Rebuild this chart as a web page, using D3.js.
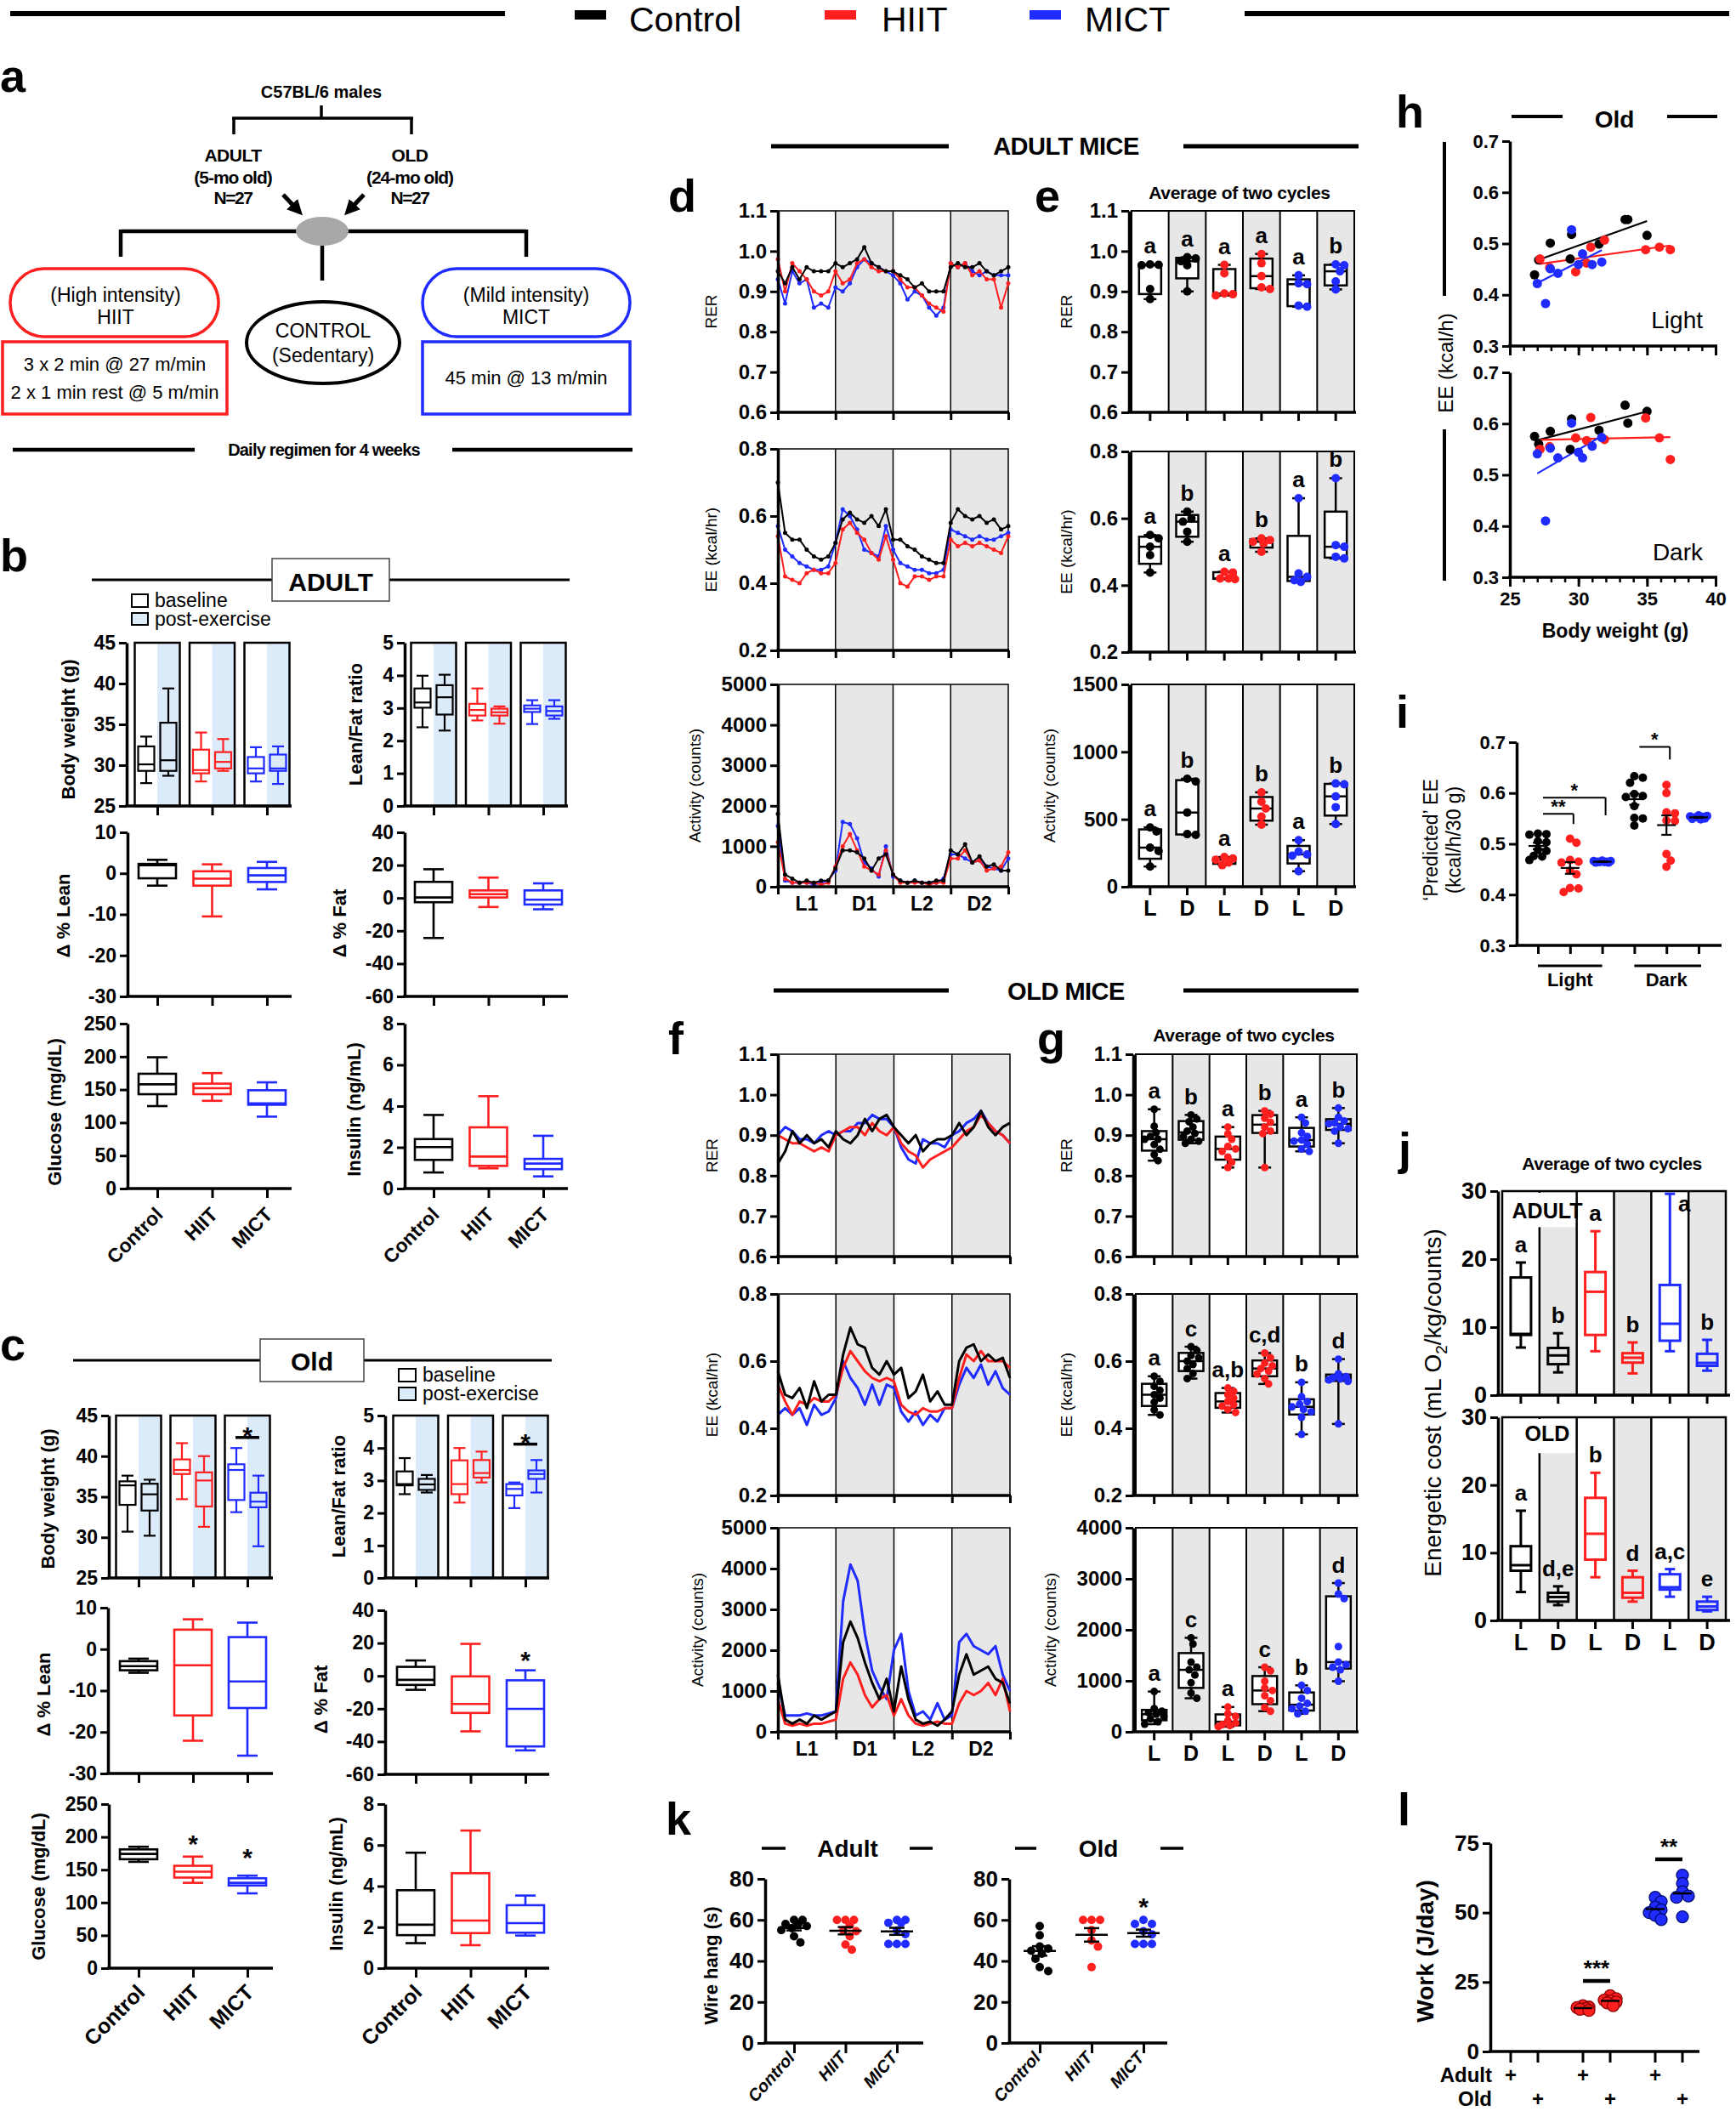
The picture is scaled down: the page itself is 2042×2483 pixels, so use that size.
<!DOCTYPE html>
<html lang="en">
<head>
<meta charset="UTF-8">
<title>Exercise training in adult and old mice</title>
<script src="https://d3js.org/d3.v7.min.js"></script>
<style>
  body { margin: 0; background: #fff; }
  svg { display: block; }
</style>
</head>
<body>
<div id="chart"></div>
<script>
// ---------------- data ----------------
var groups = ["Control", "HIIT", "MICT"];

// b / c : box stats [min, q1, median, q3, max] per group
var adultBodyWtBase = [[27.8,29.3,30.1,32.3,33.5],[28.0,29.0,29.4,31.9,34.0],[28.0,29.0,29.6,31.0,32.2]];
var adultBodyWtPost = [[28.7,29.3,30.6,35.2,39.4],[29.3,29.6,30.4,31.6,33.2],[27.7,29.3,29.6,31.3,32.3]];
var adultLeanFatBase = [[2.41,3.01,3.17,3.60,3.99],[2.62,2.77,2.94,3.13,3.60],[2.51,2.88,2.98,3.08,3.24]];
var adultLeanFatPost = [[2.31,2.80,3.33,3.70,4.02],[2.52,2.77,2.87,2.98,3.05],[2.67,2.77,2.91,3.05,3.24]];
var adultDLean = [[-3.0,-1.2,2.0,2.3,3.3],[-10.5,-3.0,-1.3,0.5,2.2],[-3.9,-2.1,-0.5,1.3,2.8]];
var adultDFat = [[-24.4,-2.6,0.3,9.8,17.5],[-5.5,0.3,2.3,4.6,12.4],[-6.9,-4.0,-1.1,4.6,8.9]];
var adultGlucose = [[125,143,158,174,199],[133,143,152,159,175],[109,127,129,149,161]];
var adultInsulin = [[0.78,1.39,2.01,2.4,3.57],[0.98,1.10,1.55,2.97,4.48],[0.59,0.94,1.21,1.44,2.56]];

var oldBodyWtBase = [[30.7,34.0,36.4,36.9,37.6],[34.7,37.8,38.3,39.6,41.6],[33.1,34.6,38.3,39.0,41.0]];
var oldBodyWtPost = [[30.2,33.3,35.3,36.6,37.1],[31.3,33.8,37.0,38.0,40.0],[28.9,33.7,34.4,35.5,37.6]];
var oldLeanFatBase = [[2.58,2.85,2.89,3.28,3.69],[2.32,2.58,2.89,3.62,4.0],[2.15,2.54,2.74,2.89,2.94]];
var oldLeanFatPost = [[2.63,2.71,2.88,3.05,3.17],[2.94,3.09,3.23,3.63,3.89],[2.63,3.05,3.2,3.31,3.63]];
var oldDLean = [[-5.7,-5.1,-4.1,-2.9,-2.3],[-22.1,-16.0,-3.9,4.7,7.2],[-25.7,-14.2,-7.8,2.9,6.4]];
var oldDFat = [[-8.5,-5.5,-2.4,5.5,9.4],[-33.8,-22.6,-17.1,-0.3,19.5],[-45.4,-43.0,-20.1,-2.7,3.4]];
var oldGlucose = [[162,166,174,181,185],[130,138,147,156,170],[114,126,130,137,141]];
var oldInsulin = [[1.22,1.61,2.12,3.80,5.63],[1.12,1.71,2.32,4.63,6.71],[1.59,1.73,2.2,3.07,3.54]];

// d / f : time courses over 48 h, one reading every 1.5 h
var hours = d3.range(0, 48.01, 1.5);
var adultRerC = [0.95,0.92,0.96,0.93,0.96,0.95,0.95,0.95,0.97,0.96,0.97,0.98,1.01,0.97,0.96,0.95,0.95,0.94,0.93,0.91,0.92,0.90,0.90,0.90,0.96,0.97,0.96,0.96,0.97,0.95,0.94,0.95,0.96];
var adultRerH = [0.98,0.90,0.97,0.95,0.93,0.90,0.89,0.90,0.95,0.92,0.93,0.97,0.98,0.96,0.95,0.95,0.95,0.93,0.91,0.91,0.89,0.87,0.86,0.85,0.97,0.96,0.97,0.94,0.95,0.93,0.93,0.86,0.92];
var adultRerM = [0.93,0.87,0.95,0.92,0.93,0.86,0.87,0.86,0.91,0.90,0.92,0.96,0.98,0.97,0.96,0.95,0.94,0.92,0.88,0.90,0.89,0.86,0.84,0.86,0.97,0.96,0.97,0.95,0.94,0.95,0.94,0.94,0.94];
var adultEeC = [0.70,0.55,0.53,0.53,0.50,0.48,0.47,0.48,0.52,0.59,0.61,0.59,0.58,0.60,0.57,0.62,0.53,0.53,0.51,0.50,0.48,0.47,0.46,0.46,0.58,0.62,0.60,0.59,0.60,0.58,0.59,0.56,0.57];
var adultEeH = [0.54,0.42,0.41,0.40,0.43,0.44,0.43,0.43,0.46,0.56,0.58,0.55,0.53,0.49,0.47,0.54,0.47,0.40,0.39,0.42,0.42,0.41,0.42,0.42,0.53,0.51,0.52,0.51,0.52,0.51,0.50,0.49,0.54];
var adultEeM = [0.57,0.50,0.48,0.46,0.45,0.44,0.44,0.45,0.52,0.62,0.60,0.56,0.50,0.49,0.48,0.57,0.50,0.46,0.45,0.44,0.44,0.43,0.43,0.44,0.56,0.55,0.54,0.53,0.54,0.53,0.53,0.54,0.55];
var adultActC = [1800,300,200,100,150,100,150,150,450,900,900,850,700,400,700,800,300,150,100,150,100,100,150,150,900,800,1050,600,750,500,550,400,400];
var adultActH = [1100,200,100,100,100,100,50,100,500,1000,1300,900,500,400,300,900,300,100,100,100,100,50,100,100,700,700,900,600,650,400,450,500,850];
var adultActM = [1500,150,100,100,100,50,100,150,400,1600,1550,1200,600,450,250,1000,250,150,100,150,100,100,100,200,800,800,700,600,650,500,450,400,700];

var oldRerC = [0.83,0.86,0.91,0.88,0.90,0.88,0.89,0.87,0.91,0.89,0.88,0.90,0.94,0.91,0.94,0.95,0.92,0.90,0.88,0.90,0.86,0.88,0.89,0.89,0.90,0.93,0.90,0.92,0.96,0.92,0.90,0.92,0.93];
var oldRerH = [0.90,0.89,0.88,0.88,0.87,0.86,0.87,0.86,0.90,0.91,0.92,0.92,0.90,0.93,0.91,0.90,0.92,0.88,0.86,0.85,0.82,0.84,0.85,0.86,0.87,0.89,0.91,0.92,0.95,0.93,0.91,0.90,0.88];
var oldRerM = [0.90,0.92,0.91,0.89,0.89,0.88,0.90,0.91,0.90,0.91,0.91,0.93,0.93,0.95,0.94,0.94,0.92,0.87,0.84,0.83,0.89,0.88,0.88,0.87,0.90,0.91,0.93,0.94,0.96,0.93,0.91,0.90,0.88];
var oldEeC = [0.57,0.50,0.49,0.52,0.46,0.54,0.48,0.50,0.50,0.62,0.70,0.65,0.64,0.58,0.56,0.60,0.56,0.58,0.49,0.51,0.56,0.48,0.51,0.47,0.47,0.60,0.64,0.65,0.60,0.62,0.60,0.61,0.55];
var oldEeH = [0.53,0.48,0.44,0.48,0.47,0.49,0.48,0.48,0.50,0.58,0.63,0.60,0.57,0.55,0.54,0.55,0.54,0.47,0.45,0.44,0.46,0.45,0.45,0.46,0.46,0.55,0.62,0.60,0.63,0.60,0.60,0.60,0.58];
var oldEeM = [0.44,0.46,0.44,0.46,0.41,0.47,0.44,0.45,0.49,0.60,0.55,0.52,0.47,0.53,0.47,0.53,0.52,0.45,0.42,0.45,0.41,0.44,0.42,0.46,0.46,0.53,0.58,0.55,0.59,0.53,0.57,0.52,0.50];
var oldActC = [1400,300,200,300,200,400,300,400,500,2200,2700,2300,1700,1200,800,1300,500,1600,800,300,200,250,150,300,500,1400,1900,1400,1500,1600,1300,1200,700];
var oldActH = [800,200,150,200,150,200,200,250,300,1300,1700,1400,900,600,800,900,400,800,400,200,150,200,250,200,200,700,1000,900,1000,1200,900,1300,500];
var oldActM = [1200,400,400,400,450,400,400,450,500,3200,4100,3700,2400,1500,1100,800,2000,2400,1000,400,500,300,700,300,400,2200,2400,2100,2000,1900,2100,1400,1000];

// e / g : per-mouse averages, columns L,D (Control), L,D (HIIT), L,D (MICT)
var cycleCols = ["L", "D", "L", "D", "L", "D"];
var adultRerPts = [[0.967,0.965,0.966,0.906,0.881],[0.985,0.982,0.975,0.965,0.90],[0.966,0.945,0.893,0.89,0.895],[0.993,0.97,0.938,0.906,0.91],[0.94,0.92,0.918,0.865,0.862],[0.967,0.965,0.95,0.925,0.905]];
var adultEePts = [[0.55,0.54,0.515,0.49,0.438],[0.62,0.6,0.59,0.56,0.53],[0.44,0.438,0.42,0.418,0.42],[0.54,0.535,0.53,0.525,0.5],[0.66,0.435,0.425,0.415,0.41],[0.72,0.52,0.515,0.485,0.48]];
var adultActPts = [[440,410,290,265,150],[800,780,550,390,385],[220,210,200,180,160],[700,630,580,520,460],[345,260,240,230,115],[765,760,670,590,465]];
var adultRerLetters = ["a","a","a","a","a","b"];
var adultEeLetters = ["a","b","a","b","a","b"];
var adultActLetters = ["a","b","a","b","a","b"];

var oldRerPts = [[0.964,0.922,0.906,0.897,0.89,0.89,0.877,0.865,0.852,0.837],[0.95,0.94,0.933,0.92,0.91,0.904,0.897,0.89,0.885,0.88],[0.92,0.903,0.89,0.872,0.866,0.86,0.846,0.833,0.82],[0.96,0.952,0.942,0.932,0.92,0.91,0.904,0.82],[0.944,0.93,0.906,0.897,0.888,0.885,0.878,0.866,0.86],[0.967,0.944,0.935,0.93,0.928,0.92,0.916,0.91,0.88]];
var oldEePts = [[0.555,0.54,0.525,0.513,0.5,0.49,0.478,0.455,0.44],[0.643,0.632,0.617,0.61,0.6,0.59,0.578,0.563,0.548],[0.52,0.51,0.5,0.49,0.48,0.47,0.466,0.456,0.447],[0.624,0.61,0.594,0.586,0.578,0.57,0.562,0.548,0.532],[0.537,0.494,0.479,0.472,0.464,0.456,0.449,0.433,0.382],[0.606,0.562,0.554,0.55,0.547,0.544,0.54,0.413]];
var oldActPts = [[790,455,405,375,345,304,253,200,150],[1843,1720,1367,1266,1215,1114,962,760,658],[486,354,304,223,172,142,122,101],[1266,1195,992,861,810,709,608,476,405],[911,810,658,557,506,455,405,354],[2916,2700,2613,1671,1367,1316,1266,1215,992]];
var oldRerLetters = ["a","b","a","b","a","b"];
var oldEeLetters = ["a","c","a,b","c,d","b","d"];
var oldActLetters = ["a","c","a","c","b","d"];

// h : EE against body weight (old mice)
var hWeightC = [26.8,27.1,27.95,29.4,29.5,31.5,33.4,33.6,35.0];
var hWeightH = [27.2,27.9,29.8,30.6,30.9,31.9,34.9,35.9,36.7];
var hWeightM = [27.0,27.6,27.95,28.5,29.5,30.0,30.3,31.0,31.7];
var hLightC = [0.439,0.468,0.501,0.47,0.518,0.499,0.547,0.547,0.516];
var hLightH = [0.47,0.453,0.445,0.462,0.493,0.507,0.488,0.493,0.488];
var hLightM = [0.422,0.383,0.451,0.442,0.527,0.459,0.48,0.459,0.464];
var hDarkC = [0.575,0.56,0.585,0.55,0.609,0.587,0.636,0.601,0.624];
var hDarkH = [0.55,0.555,0.572,0.567,0.612,0.569,0.611,0.572,0.53];
var hDarkM = [0.541,0.41,0.552,0.533,0.601,0.544,0.533,0.556,0.573];

// i : predicted EE at 30 g
var iLightC = [0.519,0.518,0.52,0.505,0.503,0.488,0.486,0.476,0.475,0.468];
var iLightH = [0.51,0.502,0.468,0.465,0.463,0.447,0.44,0.413,0.412,0.405];
var iLightM = [0.467,0.466,0.466,0.465,0.465,0.464,0.464,0.463,0.463];
var iDarkC = [0.633,0.63,0.62,0.598,0.594,0.592,0.574,0.551,0.55,0.536];
var iDarkH = [0.616,0.6,0.562,0.56,0.546,0.545,0.48,0.467,0.455];
var iDarkM = [0.556,0.555,0.554,0.553,0.552,0.551,0.55,0.549,0.548];

// j : energetic cost box stats
var jAdult = [[7.0,8.85,9.0,17.3,19.5],[3.35,4.55,5.84,6.94,9.1],[6.46,8.85,15.2,18.1,24.1],[3.2,4.78,5.5,6.17,7.75],[6.46,8.0,10.5,16.2,29.6],[3.6,4.31,4.74,6.08,8.13]];
var jOld = [[4.2,7.34,8.16,10.96,16.2],[2.26,2.78,3.46,4.08,5.04],[6.38,8.98,12.8,18.1,21.8],[2.78,3.36,4.08,6.38,7.34],[3.5,4.56,4.9,6.82,7.58],[1.34,1.54,2.06,2.78,3.5]];
var jAdultLetters = ["a","b","a","b","a","b"];
var jOldLetters = ["a","d,e","b","d","a,c","e"];

// k : wire hang (s)
var kAdultC = [60,60,58,58,57,56,55,52,49];
var kAdultH = [60,60,60,57.5,55,54.5,52,48,45.5];
var kAdultM = [60,60,58.6,58.6,54.8,53.1,48.3,48.3,48.3];
var kOldC = [57,52.5,47,46,45,43.5,41,37,35];
var kOldH = [60,60,60,55,50,47,37];
var kOldM = [60,58,58,54.5,53,48.3,48.3,48.3];

// l : treadmill work (J/day); control mice did not run
var lAdultH = [16.5,15.8,15.2,14.8,16.0,15.5];
var lOldH = [20.1,19.0,18.2,17.5,16.5,17.8,18.5];
var lAdultM = [55.5,54,52,51,50,49,47.5];
var lOldM = [63.5,60.5,57.5,56,55.5,48.5];

// ---------------- drawing helpers ----------------
var FONT = '"Liberation Sans", Arial, Helvetica, sans-serif';
var NARROW = '"Liberation Sans Narrow", "Arial Narrow", "Liberation Sans", Arial, sans-serif';
var colors = ["#000000", "#ff1f1f", "#1f2bff"];
var colColor = [0, 0, 1, 1, 2, 2];
var LIGHTBLUE = "#dcebfa", SHADE = "#e7e7e7";

var svg = d3.select("#chart").append("svg")
  .attr("width", 2042).attr("height", 2483)
  .attr("font-family", FONT);
svg.append("rect").attr("width", 2042).attr("height", 2483).attr("fill", "#fff");
svg.append("defs").append("marker").attr("id", "arr")
  .attr("viewBox", "0 0 10 10").attr("refX", 6).attr("refY", 5)
  .attr("markerWidth", 3.6).attr("markerHeight", 3.6).attr("orient", "auto")
  .append("path").attr("d", "M0,0L10,5L0,10z").attr("fill", "#000");

function T(x, y, s, size, o) {
  o = o || {};
  var t = svg.append("text").attr("x", x).attr("y", y).attr("font-size", size)
    .attr("text-anchor", o.a || "middle").attr("font-weight", o.w || "bold")
    .attr("fill", o.c || "#000").text(s);
  if (o.f) t.attr("font-family", o.f);
  if (o.r) t.attr("transform", "rotate(" + o.r + "," + x + "," + y + ")");
  if (o.ls != null) t.attr("letter-spacing", o.ls);
  if (o.it) t.attr("font-style", "italic");
  return t;
}
function VT(cx, cy, s, size, o) { o = o || {}; o.r = -90; return T(cx + 0.36 * size, cy, s, size, o); }
function L(x1, y1, x2, y2, w, c) {
  return svg.append("line").attr("x1", x1).attr("y1", y1).attr("x2", x2).attr("y2", y2)
    .attr("stroke", c || "#000").attr("stroke-width", w || 2);
}
function R(x, y, w, h, fill, stroke, sw, rx) {
  var r = svg.append("rect").attr("x", x).attr("y", y).attr("width", w).attr("height", h)
    .attr("fill", fill || "none");
  if (stroke) r.attr("stroke", stroke).attr("stroke-width", sw || 2);
  if (rx) r.attr("rx", rx).attr("ry", rx);
  return r;
}
function axisL(x, y, ticks, fmt, size, fam) {
  var g = svg.append("g").attr("transform", "translate(" + x + ",0)")
    .call(d3.axisLeft(y).tickValues(ticks).tickFormat(fmt).tickSize(9).tickSizeOuter(0).tickPadding(4));
  g.attr("font-size", size).attr("font-weight", "bold").attr("font-family", fam || FONT);
  g.select(".domain").attr("stroke-width", 3.5).attr("stroke", "#000");
  g.selectAll(".tick line").attr("stroke-width", 3).attr("stroke", "#000");
  g.selectAll(".tick text").attr("fill", "#000");
  return g;
}
function axisB(y, x0, x1, scale, len, vals) {
  L(x0 - 1.75, y, x1, y, 3.5);
  var ax = d3.axisBottom(scale).tickSize(len || 10);
  if (vals) ax.tickValues(vals);
  var g = svg.append("g").attr("transform", "translate(0," + y + ")").call(ax);
  g.select(".domain").remove();
  g.selectAll(".tick text").remove();
  g.selectAll(".tick line").attr("stroke-width", 3).attr("stroke", "#000");
}
function box(cx, w, s, col, y, cap, sw, fill) {
  var g = svg.append("g").attr("stroke", col).attr("stroke-width", sw).attr("fill", "none");
  g.append("line").attr("x1", cx).attr("x2", cx).attr("y1", y(s[0])).attr("y2", y(s[1]));
  g.append("line").attr("x1", cx).attr("x2", cx).attr("y1", y(s[3])).attr("y2", y(s[4]));
  [s[0], s[4]].forEach(function (v) {
    g.append("line").attr("x1", cx - cap / 2).attr("x2", cx + cap / 2).attr("y1", y(v)).attr("y2", y(v));
  });
  g.append("rect").attr("x", cx - w / 2).attr("y", y(s[3])).attr("width", w)
    .attr("height", Math.max(1, y(s[1]) - y(s[3]))).attr("fill", fill || "none");
  g.append("line").attr("x1", cx - w / 2).attr("x2", cx + w / 2).attr("y1", y(s[2])).attr("y2", y(s[2]));
}
// quartiles the way GraphPad Prism computes them
function gpQuant(s, p) {
  var pos = p * (s.length + 1);
  if (pos <= 1) return s[0];
  if (pos >= s.length) return s[s.length - 1];
  var lo = Math.floor(pos);
  return s[lo - 1] + (pos - lo) * (s[lo] - s[lo - 1]);
}
function boxStats(vals) {
  var s = vals.slice().sort(d3.ascending);
  return [s[0], gpQuant(s, 0.25), d3.median(s), gpQuant(s, 0.75), s[s.length - 1]];
}
// simple bee-swarm so that equal values sit side by side
function swarm(vals, y, cx, r, dmin, maxOff) {
  var placed = [], cands = [0];
  for (var k = 1; k * r * 0.5 <= maxOff + 0.01; k++) cands.push(k * r * 0.5, -k * r * 0.5);
  return vals.slice().sort(d3.descending).map(function (v) {
    var py = y(v), best = cx, bestC = -1;
    for (var j = 0; j < cands.length; j++) {
      var px = cx + cands[j];
      var c = placed.length ? d3.min(placed, function (q) { return Math.hypot(q[0] - px, q[1] - py); }) : Infinity;
      if (c >= dmin) { best = px; break; }
      if (c > bestC) { bestC = c; best = px; }
    }
    placed.push([best, py]);
    return [best, py];
  });
}
function meanSem(cx, vals, y, w, cap, sw) {
  var m = d3.mean(vals), se = d3.deviation(vals) / Math.sqrt(vals.length);
  L(cx - w / 2, y(m), cx + w / 2, y(m), sw);
  L(cx, y(m - se), cx, y(m + se), sw);
  L(cx - cap / 2, y(m + se), cx + cap / 2, y(m + se), sw);
  L(cx - cap / 2, y(m - se), cx + cap / 2, y(m - se), sw);
}
var plainFmt = function (d) { return String(d); };

// ---------------- top legend ----------------
L(12, 16, 594, 16, 6);
L(1464, 16, 2034, 16, 6);
[["Control", 676, 740], ["HIIT", 970, 1037], ["MICT", 1211, 1276]].forEach(function (d, i) {
  R(d[1], 12, 37, 11, colors[i]);
  T(d[2], 37, d[0], 41, {a: "start", w: "normal"});
});

// ---------------- panel letters ----------------
[["a", 0, 108], ["b", 0, 672], ["c", 0, 1600], ["d", 786, 249], ["e", 1217, 249],
 ["f", 786, 1240], ["g", 1220, 1240], ["h", 1642, 150], ["i", 1642, 856],
 ["j", 1645, 1370], ["k", 783, 2158], ["l", 1644, 2147]].forEach(function (d) {
  T(d[1], d[2], d[0], 54, {a: "start"});
});

// ---------------- panel a : study design ----------------
T(378, 115, "C57BL/6 males", 20);
L(378, 124, 378, 139, 3.5); L(273, 139, 486, 139, 3.5);
L(275, 139, 275, 158, 3.5); L(484, 139, 484, 158, 3.5);
T(274, 190, "ADULT", 21, {ls: -0.5}); T(274, 216, "(5-mo old)", 21, {ls: -1}); T(274, 240, "N=27", 21, {ls: -1.5});
T(482, 190, "OLD", 21, {ls: -0.5}); T(482, 216, "(24-mo old)", 21, {ls: -1}); T(482, 240, "N=27", 21, {ls: -1.5});
L(333, 229, 351, 248, 5).attr("marker-end", "url(#arr)");
L(428, 229, 410, 248, 5).attr("marker-end", "url(#arr)");
L(142, 272, 619, 272, 4.5); L(142, 270, 142, 302, 4.5); L(619, 270, 619, 302, 4.5); L(379, 285, 379, 330, 4.5);
svg.append("ellipse").attr("cx", 379).attr("cy", 272).attr("rx", 31).attr("ry", 17).attr("fill", "#a8a8a8");
R(12, 316, 245, 80, "#fff", colors[1], 3.5, 40);
T(136, 355, "(High intensity)", 23, {w: "normal"}); T(136, 381, "HIIT", 23, {w: "normal"});
R(3, 402, 264, 85, "#fff", colors[1], 3.5);
T(135, 436, "3 x 2 min @ 27 m/min", 22, {w: "normal"}); T(135, 469, "2 x 1 min rest @ 5 m/min", 22, {w: "normal"});
svg.append("ellipse").attr("cx", 380).attr("cy", 403).attr("rx", 90).attr("ry", 48)
  .attr("fill", "#fff").attr("stroke", "#000").attr("stroke-width", 4);
T(380, 397, "CONTROL", 23, {w: "normal"}); T(380, 426, "(Sedentary)", 23, {w: "normal"});
R(497, 316, 244, 80, "#fff", colors[2], 3.5, 40);
T(619, 355, "(Mild intensity)", 23, {w: "normal"}); T(619, 381, "MICT", 23, {w: "normal"});
R(497, 402, 244, 85, "#fff", colors[2], 3.5);
T(619, 452, "45 min @ 13 m/min", 22, {w: "normal"});
L(15, 529, 229, 529, 4.5); L(532, 529, 744, 529, 4.5);
T(381, 536, "Daily regimen for 4 weeks", 20, {ls: -0.8});

// ---------------- panels b / c : body composition ----------------
function bcPanel(o) {
  var y = d3.scaleLinear().domain(o.dom).range([o.bot, o.top]);
  var x = d3.scalePoint().domain(groups).range(o.cx);
  groups.forEach(function (gname, i) {
    var c = x(gname);
    if (o.base) {
      R(c, o.top, 26.5, o.bot - o.top, LIGHTBLUE);
      R(c - 26.5, o.top, 53, o.bot - o.top, "none", "#000", 2.5);
      box(c - 13, 19, o.base[i], colors[i], y, 14, 2.2);
      box(c + 13, 19, o.post[i], colors[i], y, 14, 2.2);
    } else {
      box(c, 44, o.data[i], colors[i], y, 24, 2.6);
    }
  });
  axisL(o.ax, y, o.ticks, plainFmt, 23);
  axisB(o.bot, o.ax, o.xe, x, 11);
  VT(o.lx, o.ly, o.label, 22);
  (o.sig || []).forEach(function (s) {
    var c = x(groups[s.i]);
    if (s.bar) { L(c - 14, y(s.v), c + 14, y(s.v), 3.5); T(c, y(s.v) + 8, "*", 30); }
    else T(c, y(s.v) + 17, "*", 30);
  });
  if (o.xlab) groups.forEach(function (gname) {
    T(x(gname) + o.xlab[0], o.bot + o.xlab[1], gname, o.xlab[2], {a: "end", r: -45});
  });
}
// panel b header
L(108, 682, 320, 682, 3); L(458, 682, 670, 682, 3);
R(320, 657, 138, 50, "#fff", "#444", 1.5);
T(389, 695, "ADULT", 30);
R(155, 699, 19, 15, "#fff", "#000", 2); T(182, 714, "baseline", 23, {a: "start", w: "normal"});
R(155, 721, 19, 14, LIGHTBLUE, "#000", 2); T(182, 736, "post-exercise", 23, {a: "start", w: "normal"});

bcPanel({ax: 149, xe: 343, top: 756, bot: 948, cx: [185, 314], dom: [25, 45], ticks: [25, 30, 35, 40, 45],
  base: adultBodyWtBase, post: adultBodyWtPost, label: "Body weight (g)", lx: 80, ly: 858});
bcPanel({ax: 476, xe: 668, top: 756, bot: 948, cx: [510, 639], dom: [0, 5], ticks: [0, 1, 2, 3, 4, 5],
  base: adultLeanFatBase, post: adultLeanFatPost, label: "Lean/Fat ratio", lx: 418, ly: 852});
bcPanel({ax: 150, xe: 343, top: 979, bot: 1172, cx: [185, 314], dom: [-30, 10], ticks: [-30, -20, -10, 0, 10],
  data: adultDLean, label: "\u0394 % Lean", lx: 74, ly: 1077});
bcPanel({ax: 476, xe: 668, top: 979, bot: 1172, cx: [510, 639], dom: [-60, 40], ticks: [-60, -40, -20, 0, 20, 40],
  data: adultDFat, label: "\u0394 % Fat", lx: 399, ly: 1086});
bcPanel({ax: 150, xe: 343, top: 1204, bot: 1398, cx: [185, 314], dom: [0, 250], ticks: [0, 50, 100, 150, 200, 250],
  data: adultGlucose, label: "Glucose (mg/dL)", lx: 64, ly: 1308, xlab: [8, 32, 23]});
bcPanel({ax: 476, xe: 668, top: 1204, bot: 1398, cx: [510, 639], dom: [0, 8], ticks: [0, 2, 4, 6, 8],
  data: adultInsulin, label: "Insulin (ng/mL)", lx: 416, ly: 1305, xlab: [8, 32, 23]});

// panel c header
L(86, 1600, 306, 1600, 3); L(428, 1600, 649, 1600, 3);
R(306, 1575, 122, 50, "#fff", "#444", 1.5);
T(367, 1612, "Old", 30);
R(469, 1610, 20, 15, "#fff", "#000", 2); T(497, 1625, "baseline", 23, {a: "start", w: "normal"});
R(469, 1632, 20, 15, LIGHTBLUE, "#000", 2); T(497, 1647, "post-exercise", 23, {a: "start", w: "normal"});

bcPanel({ax: 128, xe: 321, top: 1665, bot: 1856, cx: [163, 291], dom: [25, 45], ticks: [25, 30, 35, 40, 45],
  base: oldBodyWtBase, post: oldBodyWtPost, label: "Body weight (g)", lx: 56, ly: 1763, sig: [{i: 2, v: 42.3, bar: true}]});
bcPanel({ax: 453, xe: 646, top: 1665, bot: 1856, cx: [489, 618], dom: [0, 5], ticks: [0, 1, 2, 3, 4, 5],
  base: oldLeanFatBase, post: oldLeanFatPost, label: "Lean/Fat ratio", lx: 398, ly: 1760, sig: [{i: 2, v: 4.12, bar: true}]});
bcPanel({ax: 127, xe: 321, top: 1891, bot: 2086, cx: [163, 291], dom: [-30, 10], ticks: [-30, -20, -10, 0, 10],
  data: oldDLean, label: "\u0394 % Lean", lx: 51, ly: 1993});
bcPanel({ax: 453, xe: 646, top: 1894, bot: 2087, cx: [489, 618], dom: [-60, 40], ticks: [-60, -40, -20, 0, 20, 40],
  data: oldDFat, label: "\u0394 % Fat", lx: 377, ly: 1999, sig: [{i: 2, v: 13}]});
bcPanel({ax: 128, xe: 321, top: 2122, bot: 2315, cx: [163, 291], dom: [0, 250], ticks: [0, 50, 100, 150, 200, 250],
  data: oldGlucose, label: "Glucose (mg/dL)", lx: 45, ly: 2219, xlab: [9, 30, 25], sig: [{i: 1, v: 198}, {i: 2, v: 177}]});
bcPanel({ax: 453, xe: 646, top: 2122, bot: 2315, cx: [489, 618], dom: [0, 8], ticks: [0, 2, 4, 6, 8],
  data: oldInsulin, label: "Insulin (ng/mL)", lx: 395, ly: 2216, xlab: [9, 30, 25]});

// ---------------- panels d / f : time courses ----------------
function tsPanel(o) {
  var x = d3.scaleLinear().domain([0, 48]).range([o.x0, o.x1]);
  var y = d3.scaleLinear().domain(o.dom).range([o.bot, o.top]);
  [12, 36].forEach(function (h) { R(x(h), o.top, x(h + 12) - x(h), o.bot - o.top, SHADE); });
  R(o.x0, o.top, o.x1 - o.x0, o.bot - o.top, "none", "#000", 1.5);
  [12, 24, 36].forEach(function (h) { L(x(h), o.top, x(h), o.bot, 1.5); });
  var line = d3.line().x(function (d, i) { return x(hours[i]); }).y(function (d) { return y(d); });
  [2, 1, 0].forEach(function (k) {
    svg.append("path").attr("d", line(o.s[k])).attr("fill", "none").attr("stroke", colors[k])
      .attr("stroke-width", o.lw).attr("stroke-linejoin", "round");
    if (o.dots) o.s[k].forEach(function (v, i) {
      svg.append("circle").attr("cx", x(hours[i])).attr("cy", y(v)).attr("r", 2.5).attr("fill", colors[k]);
    });
  });
  axisL(o.x0, y, o.ticks, o.fmt, 24);
  axisB(o.bot, o.x0, o.x1 + 1, x, 9, [0, 12, 24, 36, 48]);
  VT(o.lx, (o.top + o.bot) / 2, o.label, 19, {w: "normal"});
  if (o.xlabY) ["L1", "D1", "L2", "D2"].forEach(function (s, i) { T(x(6 + 12 * i), o.xlabY, s, 23); });
}
var f1 = d3.format(".1f");
// header ADULT MICE
L(907, 172, 1116, 172, 5); L(1392, 172, 1598, 172, 5);
T(1254, 182, "ADULT MICE", 29, {ls: -0.5});
tsPanel({x0: 915, x1: 1186, top: 248, bot: 485, dom: [0.6, 1.1], ticks: [0.6, 0.7, 0.8, 0.9, 1.0, 1.1], fmt: f1,
  s: [adultRerC, adultRerH, adultRerM], lw: 2, dots: true, label: "RER", lx: 836});
tsPanel({x0: 915, x1: 1186, top: 528, bot: 765, dom: [0.2, 0.8], ticks: [0.2, 0.4, 0.6, 0.8], fmt: f1,
  s: [adultEeC, adultEeH, adultEeM], lw: 2, dots: true, label: "EE (kcal/hr)", lx: 836});
tsPanel({x0: 915, x1: 1186, top: 805, bot: 1043, dom: [0, 5000], ticks: [0, 1000, 2000, 3000, 4000, 5000], fmt: plainFmt,
  s: [adultActC, adultActH, adultActM], lw: 2, dots: true, label: "Activity (counts)", lx: 817, xlabY: 1071});
// header OLD MICE
L(910, 1165, 1116, 1165, 5); L(1392, 1165, 1598, 1165, 5);
T(1254, 1176, "OLD MICE", 29, {ls: -0.5});
tsPanel({x0: 915, x1: 1188, top: 1240, bot: 1478, dom: [0.6, 1.1], ticks: [0.6, 0.7, 0.8, 0.9, 1.0, 1.1], fmt: f1,
  s: [oldRerC, oldRerH, oldRerM], lw: 3, label: "RER", lx: 837});
tsPanel({x0: 915, x1: 1188, top: 1522, bot: 1759, dom: [0.2, 0.8], ticks: [0.2, 0.4, 0.6, 0.8], fmt: f1,
  s: [oldEeC, oldEeH, oldEeM], lw: 3, label: "EE (kcal/hr)", lx: 837});
tsPanel({x0: 915, x1: 1188, top: 1797, bot: 2037, dom: [0, 5000], ticks: [0, 1000, 2000, 3000, 4000, 5000], fmt: plainFmt,
  s: [oldActC, oldActH, oldActM], lw: 3, label: "Activity (counts)", lx: 820, xlabY: 2065});

// ---------------- panels e / g : light vs dark averages ----------------
function colPanel(o) {
  var x = d3.scaleBand().domain(d3.range(6)).range([o.x0, o.x1]);
  var y = d3.scaleLinear().domain(o.dom).range([o.bot, o.top]);
  d3.range(6).forEach(function (i) { if (i % 2) R(x(i), o.top, x.bandwidth(), o.bot - o.top, SHADE); });
  R(o.x0, o.top, o.x1 - o.x0, o.bot - o.top, "none", "#000", 2);
  d3.range(1, 6).forEach(function (i) { L(x(i), o.top, x(i), o.bot, 2); });
  o.pts.forEach(function (vals, i) {
    var cx = x(i) + x.bandwidth() / 2, s = boxStats(vals);
    box(cx, o.bw, s, "#000", y, 15, 2.5, "#fff");
    swarm(vals, y, cx, o.r, o.r * 1.7, 13).forEach(function (p) {
      svg.append("circle").attr("cx", p[0]).attr("cy", p[1]).attr("r", o.r).attr("fill", colors[colColor[i]]);
    });
    T(cx, y(s[4]) - o.r - 8, o.letters[i], 26);
  });
  axisL(o.ax, y, o.ticks, o.fmt, 24);
  axisB(o.bot, o.ax, o.x1 + 2, x, 10);
  VT(o.lx, (o.top + o.bot) / 2, o.label, 19, {w: "normal"});
  if (o.xlabY) cycleCols.forEach(function (s, i) { T(x(i) + x.bandwidth() / 2, o.xlabY, s, 25); });
}
T(1458, 234, "Average of two cycles", 21, {ls: -0.3});
colPanel({ax: 1328, x0: 1331, x1: 1593, top: 248, bot: 485, dom: [0.6, 1.1], ticks: [0.6, 0.7, 0.8, 0.9, 1.0, 1.1], fmt: f1,
  pts: adultRerPts, letters: adultRerLetters, bw: 26, r: 5, label: "RER", lx: 1254});
colPanel({ax: 1328, x0: 1331, x1: 1593, top: 531, bot: 767, dom: [0.2, 0.8], ticks: [0.2, 0.4, 0.6, 0.8], fmt: f1,
  pts: adultEePts, letters: adultEeLetters, bw: 26, r: 5, label: "EE (kcal/hr)", lx: 1254});
colPanel({ax: 1328, x0: 1331, x1: 1593, top: 805, bot: 1043, dom: [0, 1500], ticks: [0, 500, 1000, 1500], fmt: plainFmt,
  pts: adultActPts, letters: adultActLetters, bw: 26, r: 5, label: "Activity (counts)", lx: 1234, xlabY: 1077});
T(1463, 1225, "Average of two cycles", 21, {ls: -0.3});
colPanel({ax: 1333, x0: 1336, x1: 1596, top: 1240, bot: 1478, dom: [0.6, 1.1], ticks: [0.6, 0.7, 0.8, 0.9, 1.0, 1.1], fmt: f1,
  pts: oldRerPts, letters: oldRerLetters, bw: 29, r: 4.5, label: "RER", lx: 1254});
colPanel({ax: 1333, x0: 1336, x1: 1596, top: 1522, bot: 1759, dom: [0.2, 0.8], ticks: [0.2, 0.4, 0.6, 0.8], fmt: f1,
  pts: oldEePts, letters: oldEeLetters, bw: 29, r: 4.5, label: "EE (kcal/hr)", lx: 1254});
colPanel({ax: 1333, x0: 1336, x1: 1596, top: 1797, bot: 2037, dom: [0, 4000], ticks: [0, 1000, 2000, 3000, 4000], fmt: plainFmt,
  pts: oldActPts, letters: oldActLetters, bw: 29, r: 4.5, label: "Activity (counts)", lx: 1235, xlabY: 2071});

// ---------------- panel h : EE vs body weight ----------------
function regress(xs, ys) {
  var mx = d3.mean(xs), my = d3.mean(ys), sxy = 0, sxx = 0;
  xs.forEach(function (v, i) { sxy += (v - mx) * (ys[i] - my); sxx += (v - mx) * (v - mx); });
  var b = sxy / sxx;
  return function (v) { return my + b * (v - mx); };
}
function hPanel(top, bot, ysets, showLab, word, wordY) {
  var x = d3.scaleLinear().domain([25, 40]).range([1776, 2018]);
  var y = d3.scaleLinear().domain([0.3, 0.7]).range([bot, top]);
  var xsets = [hWeightC, hWeightH, hWeightM];
  [0, 1, 2].forEach(function (k) {
    var f = regress(xsets[k], ysets[k]), lo = d3.min(xsets[k]), hi = d3.max(xsets[k]);
    L(x(lo), y(f(lo)), x(hi), y(f(hi)), 2.2, colors[k]);
  });
  [0, 1, 2].forEach(function (k) {
    xsets[k].forEach(function (v, i) {
      svg.append("circle").attr("cx", x(v)).attr("cy", y(ysets[k][i])).attr("r", 5.5).attr("fill", colors[k]);
    });
  });
  axisL(1776, y, [0.3, 0.4, 0.5, 0.6, 0.7], f1, 22);
  L(1774, bot, 2020, bot, 3.5);
  var gm = svg.append("g").attr("transform", "translate(0," + bot + ")")
    .call(d3.axisBottom(x).tickValues(d3.range(25, 41)).tickSize(6));
  gm.select(".domain").remove();
  gm.selectAll("text").remove();
  gm.selectAll("line").attr("stroke-width", 2.5);
  var g = svg.append("g").attr("transform", "translate(0," + bot + ")")
    .call(d3.axisBottom(x).tickValues([25, 30, 35, 40]).tickSize(11).tickPadding(6).tickFormat(plainFmt));
  g.select(".domain").remove();
  g.attr("font-size", 22).attr("font-weight", "bold").attr("font-family", FONT);
  g.selectAll("line").attr("stroke-width", 3);
  if (showLab) g.selectAll("text").attr("fill", "#000");
  else g.selectAll("text").remove();
  T(2003, wordY, word, 28, {a: "end", w: "normal"});
}
L(1778, 137, 1838, 137, 4); L(1961, 137, 2020, 137, 4);
T(1899, 150, "Old", 28);
hPanel(166, 407, [hLightC, hLightH, hLightM], false, "Light", 386);
hPanel(438, 679, [hDarkC, hDarkH, hDarkM], true, "Dark", 659);
T(1900, 750, "Body weight (g)", 23);
L(1699, 167, 1699, 348, 4); L(1699, 505, 1699, 683, 4);
VT(1700, 427, "EE (kcal/h)", 24, {w: "normal"});

// ---------------- panel i : predicted EE ----------------
(function () {
  var cols = [iLightC, iLightH, iLightM, iDarkC, iDarkH, iDarkM];
  var colIdx = [0, 1, 2, 0, 1, 2];
  var x = d3.scalePoint().domain(d3.range(6)).range([1809, 1998]);
  var y = d3.scaleLinear().domain([0.3, 0.7]).range([1112, 873]);
  cols.forEach(function (vals, i) {
    swarm(vals, y, x(i), 5, 8.5, 12).forEach(function (p) {
      svg.append("circle").attr("cx", p[0]).attr("cy", p[1]).attr("r", 5).attr("fill", colors[colIdx[i]]);
    });
    meanSem(x(i), vals, y, 22, 12, 2.2);
  });
  axisL(1784, y, [0.3, 0.4, 0.5, 0.6, 0.7], f1, 22);
  axisB(1112, 1784, 2025, x, 10);
  // significance brackets
  [[0, 1, 0.559, 0.539, "**"], [0, 2, 0.591, 0.556, "*"], [3, 4, 0.691, 0.666, "*"]].forEach(function (s) {
    var xa = x(s[0]) + 6, xb = x(s[1]) + 4;
    L(xa, y(s[2]), xb, y(s[2]), 2);
    L(xb, y(s[2]), xb, y(s[3]), 2);
    T((xa + xb) / 2, y(s[2]) - 1, s[4], 22);
  });
  L(x(0), 1136, x(2), 1136, 3); L(x(3), 1136, x(5) + 3, 1136, 3);
  T(x(1), 1160, "Light", 22); T(x(4), 1160, "Dark", 22);
  VT(1683, 988, "\u2018Predicted\u2019 EE", 23, {w: "normal"});
  VT(1710, 988, "(kcal/h/30 g)", 23, {w: "normal"});
})();

// ---------------- panel j : energetic cost ----------------
function jPanel(top, bot, data, letters, title) {
  var x = d3.scaleBand().domain(d3.range(6)).range([1767, 2030]);
  var y = d3.scaleLinear().domain([0, 30]).range([bot, top]);
  d3.range(6).forEach(function (i) { if (i % 2) R(x(i), top, x.bandwidth(), bot - top, SHADE); });
  R(1767, top, 263, bot - top, "none", "#000", 2.5);
  d3.range(1, 6).forEach(function (i) { L(x(i), top, x(i), bot, 2.5); });
  R(1769, top + 2, x(2) - 1771, y(24.7) - top - 2, "#fff");
  T(1820, top + (title === "ADULT" ? 32 : 28), title, 25);
  data.forEach(function (s, i) {
    var cx = x(i) + x.bandwidth() / 2;
    box(cx, 24, s, colors[colColor[i]], y, 12, 3);
    var ly = y(s[4]) - 12;
    if (ly < top + 26) T(cx + 17, top + 24, letters[i], 26, {a: "middle"});
    else T(cx, ly, letters[i], 26);
  });
  axisL(1762, y, [0, 10, 20, 30], plainFmt, 27);
  axisB(bot, 1762, 2035, x, 10);
}
T(1896, 1376, "Average of two cycles", 21, {ls: -0.4});
jPanel(1401, 1641, jAdult, jAdultLetters, "ADULT");
jPanel(1667, 1906, jOld, jOldLetters, "OLD");
(function () {
  var x = d3.scaleBand().domain(d3.range(6)).range([1767, 2030]);
  cycleCols.forEach(function (s, i) { T(x(i) + x.bandwidth() / 2, 1941, s, 27); });
  var t = svg.append("text").attr("transform", "translate(1695,1650) rotate(-90)")
    .attr("text-anchor", "middle").attr("font-size", 28);
  t.append("tspan").text("Energetic cost (mL O");
  t.append("tspan").attr("font-size", 19).attr("dy", 7).text("2");
  t.append("tspan").attr("dy", -7).text("/kg/counts)");
})();

// ---------------- panel k : wire hang ----------------
function kPanel(ax, xe, cx, sets, star) {
  var y = d3.scaleLinear().domain([0, 80]).range([2403, 2210]);
  var x = d3.scalePoint().domain(groups).range(cx);
  axisL(ax, y, [0, 20, 40, 60, 80], plainFmt, 26, NARROW);
  axisB(2403, ax, xe, x, 12);
  sets.forEach(function (vals, i) {
    var c = x(groups[i]);
    swarm(vals, y, c, 5, 9, 15).forEach(function (p) {
      svg.append("circle").attr("cx", p[0]).attr("cy", p[1]).attr("r", 5).attr("fill", colors[i]);
    });
    meanSem(c, vals, y, 38, 18, 2.5);
    T(c + 2, 2421, groups[i], 20, {a: "end", r: -48, it: true, f: NARROW});
  });
  if (star) T(x(groups[2]), y(68.8) + 16, "*", 30, {f: NARROW});
}
L(896, 2174, 924, 2174, 3.5); L(1070, 2174, 1097, 2174, 3.5);
T(997, 2184, "Adult", 28);
L(1194, 2174, 1219, 2174, 3.5); L(1365, 2174, 1392, 2174, 3.5);
T(1292, 2184, "Old", 28);
kPanel(900, 1086, [934, 1055], [kAdultC, kAdultH, kAdultM], false);
kPanel(1187, 1373, [1223, 1345], [kOldC, kOldH, kOldM], true);
VT(836, 2312, "Wire hang (s)", 22);

// ---------------- panel l : work ----------------
(function () {
  var y = d3.scaleLinear().domain([0, 75]).range([2413, 2168]);
  var x = d3.scalePoint().domain(groups).range([1793, 1963]);
  var slots = [];
  groups.forEach(function (g) { slots.push(x(g) - 16, x(g) + 16); });
  axisL(1753, y, [0, 25, 50, 75], plainFmt, 26, NARROW);
  L(1751, 2413, 1999, 2413, 3.5);
  slots.forEach(function (sx) { L(sx, 2413, sx, 2426, 3); });
  var cols = [[], [], lAdultH, lOldH, lAdultM, lOldM];
  var edge = ["#000", "#000", "#8a0000", "#8a0000", "#000a70", "#000a70"];
  cols.forEach(function (vals, i) {
    if (!vals.length) return;
    swarm(vals, y, slots[i], 7, 8, 9).forEach(function (p) {
      svg.append("circle").attr("cx", p[0]).attr("cy", p[1]).attr("r", 7)
        .attr("fill", colors[colColor[i]]).attr("stroke", edge[i]).attr("stroke-width", 1.3);
    });
    L(slots[i] - 11, y(d3.mean(vals)), slots[i] + 11, y(d3.mean(vals)), 2.5);
  });
  L(slots[2], y(25.4), slots[3], y(25.4), 4.5); T((slots[2] + slots[3]) / 2, y(25.4) - 6, "***", 26, {f: NARROW});
  L(slots[4], y(69.2), slots[5], y(69.2), 4.5); T((slots[4] + slots[5]) / 2, y(69.2) - 6, "**", 26, {f: NARROW});
  T(1755, 2449, "Adult", 24, {a: "end", f: NARROW});
  T(1755, 2477, "Old", 24, {a: "end", f: NARROW});
  slots.forEach(function (sx, i) { T(sx, i % 2 ? 2477 : 2449, "+", 24); });
  VT(1676, 2295, "Work (J/day)", 28);
})();
</script>
</body>
</html>
